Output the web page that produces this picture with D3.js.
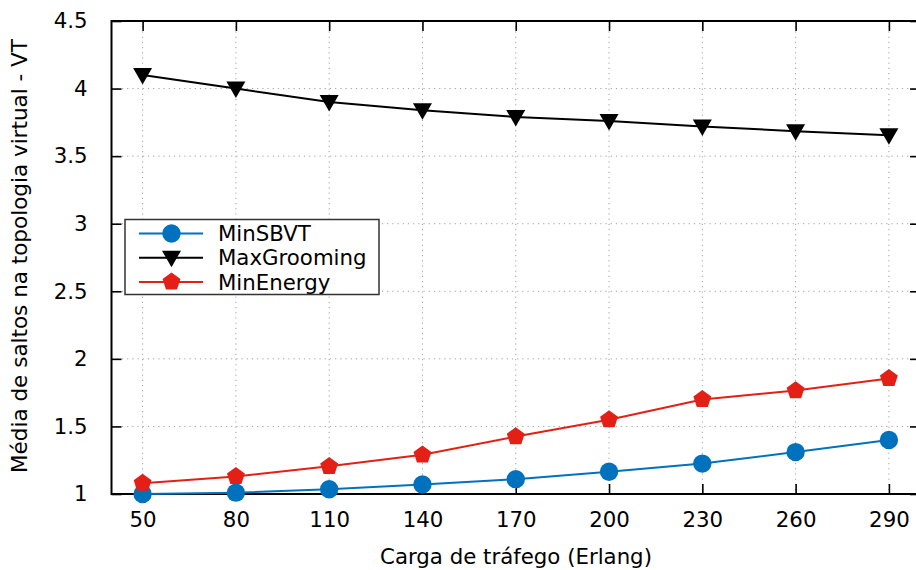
<!DOCTYPE html>
<html>
<head>
<meta charset="utf-8">
<script src="https://cdn.jsdelivr.net/npm/d3@7"></script>
<style>
  html, body { margin: 0; padding: 0; background: #fff; }
  svg { display: block; font-family: "DejaVu Sans", sans-serif; }
</style>
</head>
<body>
<svg id="chart" width="916" height="570"></svg>
<script>
// Traffic load (Erlang) on the x axis
const loads = [50, 80, 110, 140, 170, 200, 230, 260, 290];
// Average virtual-topology hops per strategy
const minSBVT      = [1.00, 1.01, 1.035, 1.07, 1.11, 1.165, 1.225, 1.31, 1.40];
const maxGrooming  = [4.10, 4.00, 3.90, 3.84, 3.79, 3.76, 3.72, 3.685, 3.655];
const minEnergy    = [1.08, 1.13, 1.205, 1.29, 1.425, 1.55, 1.70, 1.765, 1.855];
const yTicks = [1, 1.5, 2, 2.5, 3, 3.5, 4, 4.5];
const seriesNames = ["MinSBVT", "MaxGrooming", "MinEnergy"];

const svg = d3.select("#chart");
const plotL = 111.5, plotR = 920, plotT = 21, plotB = 494;
const fontSize = 21.3;

const x = d3.scaleLinear().domain([40, 300]).range([plotL, plotR]);
const y = d3.scaleLinear().domain([1, 4.5]).range([plotB, plotT]);

const series = [
  { name: seriesNames[0], values: minSBVT, color: "#0072bd", marker: "circle" },
  { name: seriesNames[1], values: maxGrooming, color: "#000000", marker: "triangle" },
  { name: seriesNames[2], values: minEnergy, color: "#e41f16", marker: "pentagon" }
];

// dotted grid
const grid = svg.append("g").attr("stroke", "#a0a0a0").attr("stroke-width", 1)
  .attr("stroke-dasharray", "1.2,4");
loads.forEach(v => grid.append("line")
  .attr("x1", x(v)).attr("x2", x(v)).attr("y1", plotT).attr("y2", plotB));
yTicks.forEach(v => grid.append("line")
  .attr("x1", plotL).attr("x2", plotR).attr("y1", y(v)).attr("y2", y(v)));

// axes with inward ticks on all four sides
const axisStyle = g => {
  g.select(".domain").remove();
  g.selectAll(".tick line").attr("stroke", "#000").attr("stroke-width", 1.6);
  g.selectAll(".tick text").attr("font-size", fontSize).attr("fill", "#000")
    .attr("font-family", "DejaVu Sans, sans-serif");
};
svg.append("g").attr("transform", `translate(0,${plotB})`)
  .call(d3.axisBottom(x).tickValues(loads).tickSize(-10).tickPadding(18).tickFormat(d3.format("d")))
  .call(axisStyle);
svg.append("g").attr("transform", `translate(0,${plotT})`)
  .call(d3.axisTop(x).tickValues(loads).tickSize(-10).tickFormat(""))
  .call(axisStyle);
svg.append("g").attr("transform", `translate(${plotL},0)`)
  .call(d3.axisLeft(y).tickValues(yTicks).tickSize(-10).tickPadding(24).tickFormat(d => d3.format("")(d)))
  .call(axisStyle);
svg.append("g").attr("transform", `translate(${plotR},0)`)
  .call(d3.axisRight(y).tickValues(yTicks).tickSize(-10).tickFormat(""))
  .call(axisStyle);

// frame
svg.append("rect").attr("x", plotL).attr("y", plotT)
  .attr("width", plotR - plotL).attr("height", plotB - plotT)
  .attr("fill", "none").attr("stroke", "#000").attr("stroke-width", 2);

// marker shapes
function markerPath(kind) {
  if (kind === "circle") return d3.symbol(d3.symbolCircle, Math.PI * 9.2 * 9.2)();
  if (kind === "triangle") return "M-9.5,-7 L9.5,-7 L0,9.5 Z";
  const R = 9.4, pts = [];
  for (let i = 0; i < 5; i++) {
    const a = -Math.PI / 2 + i * 2 * Math.PI / 5;
    pts.push([R * Math.cos(a), R * Math.sin(a)]);
  }
  return "M" + pts.map(p => p.join(",")).join("L") + "Z";
}

const line = d3.line().x((d, i) => x(loads[i])).y(d => y(d));
series.forEach(s => {
  svg.append("path").attr("d", line(s.values)).attr("fill", "none")
    .attr("stroke", s.color).attr("stroke-width", 2);
  svg.append("g").selectAll("path").data(s.values).join("path")
    .attr("d", markerPath(s.marker))
    .attr("transform", (d, i) => `translate(${x(loads[i])},${y(d)})`)
    .attr("fill", s.color);
});

// legend
const lg = svg.append("g");
lg.append("rect").attr("x", 125).attr("y", 219.5).attr("width", 254).attr("height", 75)
  .attr("fill", "#fff").attr("stroke", "#333").attr("stroke-width", 1.5);
series.forEach((s, i) => {
  const cy = 233.5 + i * 24.2;
  lg.append("line").attr("x1", 139).attr("x2", 203).attr("y1", cy).attr("y2", cy)
    .attr("stroke", s.color).attr("stroke-width", 2);
  lg.append("path").attr("d", markerPath(s.marker))
    .attr("transform", `translate(171.5,${cy})`).attr("fill", s.color);
  lg.append("text").attr("x", 218).attr("y", cy).attr("dy", "0.36em")
    .attr("font-size", fontSize).text(s.name);
});

// axis titles
svg.append("text").attr("x", 516).attr("y", 564).attr("text-anchor", "middle")
  .attr("font-size", fontSize).text("Carga de tráfego (Erlang)");
svg.append("text").attr("transform", "translate(27,256) rotate(-90)")
  .attr("text-anchor", "middle").attr("font-size", 21.5)
  .text("Média de saltos na topologia virtual - VT");
</script>
</body>
</html>
